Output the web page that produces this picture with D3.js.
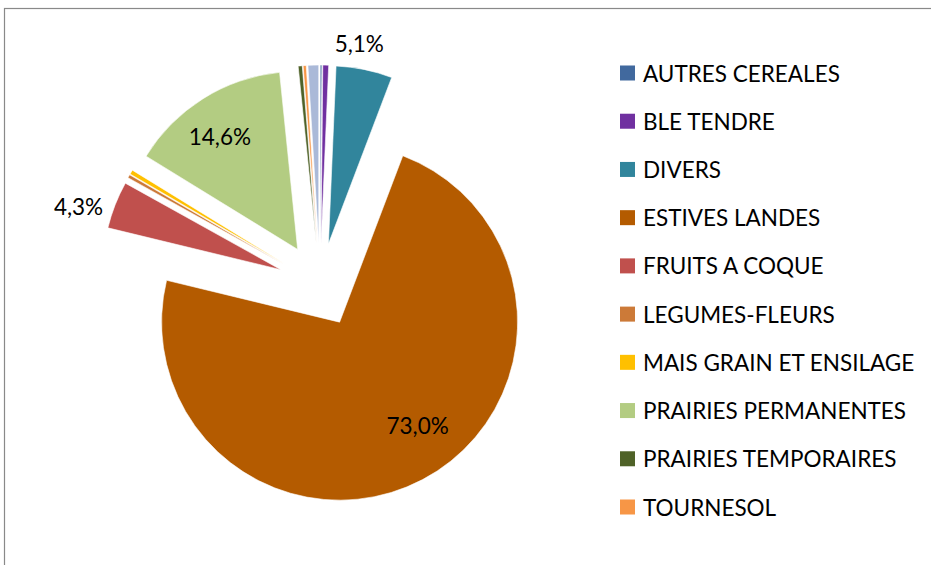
<!DOCTYPE html>
<html>
<head>
<meta charset="utf-8">
<script src="https://cdn.jsdelivr.net/npm/d3@7"></script>
<style>
  body { margin: 0; background: #fff; }
  svg { display: block; font-family: Lato, "Liberation Sans", sans-serif; }
</style>
</head>
<body>
<div class="graphic"></div>
<script>
// categories, in the order the pie draws them (clockwise from 12 o'clock)
var categories = ["AUTRES CEREALES", "BLE TENDRE", "DIVERS", "ESTIVES LANDES", "FRUITS A COQUE",
  "LEGUMES-FLEURS", "MAIS GRAIN ET ENSILAGE", "PRAIRIES PERMANENTES", "PRAIRIES TEMPORAIRES",
  "TOURNESOL", "AUTRES CULTURES"];
// share of surface, in %
var shares = [0.15, 0.53, 5.1, 73.0, 4.3, 0.3, 0.4, 14.6, 0.37, 0.28, 0.97];
var colors = ["#41699e", "#7030a0", "#31859c", "#b45b00", "#c0504d", "#cc7a38", "#ffc000",
  "#b3cc82", "#4f6228", "#f79646", "#aab9d8"];
// the legend of the original is cut after ten entries
var legendItems = categories.slice(0, 10);

var width = 931, height = 565;
var cx = 320, cy = 285, radius = 178, explode = 42;
var fontSize = 22.5;

// where Excel put the percentage labels (polar, around the pie centre)
var labelLayout = {
  "DIVERS": {r: 245, dAngle: -2.4},
  "ESTIVES LANDES": {r: 171, dAngle: -7},
  "FRUITS A COQUE": {r: 254, dAngle: -3.3},
  "PRAIRIES PERMANENTES": {r: 179, dAngle: -1.9}
};

var data = categories.map(function(c, i) { return {name: c, value: shares[i]}; });
var total = d3.sum(shares);
var color = d3.scaleOrdinal().domain(categories).range(colors);
var fmt = function(v) { return d3.format(".1f")(v).replace(".", ",") + "%"; };

var svg = d3.select(".graphic").append("svg")
  .attr("width", width)
  .attr("height", height);

// chart area border (runs past the right and bottom edges)
svg.append("rect")
  .attr("x", 4.5).attr("y", 8.5)
  .attr("width", width + 20).attr("height", height + 20)
  .attr("fill", "#fff")
  .attr("stroke", "#898989")
  .attr("stroke-width", 1.2);

var pie = d3.pie().sort(null).value(function(d) { return d.value; });
var arc = d3.arc().innerRadius(0).outerRadius(radius);
var arcs = pie(data);

var g = svg.append("g").attr("transform", "translate(" + cx + "," + cy + ")");

g.selectAll("path.slice")
  .data(arcs)
  .enter().append("path")
  .attr("class", "slice")
  .attr("transform", function(d) {
    var mid = (d.startAngle + d.endAngle) / 2;
    return "translate(" + (explode * Math.sin(mid)) + "," + (-explode * Math.cos(mid)) + ")";
  })
  .attr("d", arc)
  .attr("fill", function(d) { return color(d.data.name); })
  .attr("stroke", "#fff")
  .attr("stroke-width", 0.6);

// percentage labels
g.selectAll("text.pct")
  .data(arcs.filter(function(d) { return labelLayout[d.data.name]; }))
  .enter().append("text")
  .attr("class", "pct")
  .attr("x", function(d) {
    var l = labelLayout[d.data.name];
    var a = (d.startAngle + d.endAngle) / 2 + l.dAngle * Math.PI / 180;
    return l.r * Math.sin(a);
  })
  .attr("y", function(d) {
    var l = labelLayout[d.data.name];
    var a = (d.startAngle + d.endAngle) / 2 + l.dAngle * Math.PI / 180;
    return -l.r * Math.cos(a);
  })
  .attr("text-anchor", "middle")
  .attr("dominant-baseline", "central")
  .attr("font-size", fontSize)
  .attr("fill", "#000")
  .text(function(d) { return fmt(d.data.value / total * 100); });

// legend
var legendY = d3.scalePoint().domain(legendItems).range([73, 507]);
var legend = svg.append("g").selectAll("g")
  .data(legendItems)
  .enter().append("g")
  .attr("transform", function(d) { return "translate(620," + legendY(d) + ")"; });

legend.append("rect")
  .attr("x", 0).attr("y", -7.5)
  .attr("width", 15).attr("height", 15)
  .attr("fill", function(d) { return color(d); });

legend.append("text")
  .attr("x", 23).attr("y", 0)
  .attr("dominant-baseline", "central")
  .attr("font-size", fontSize)
  .attr("fill", "#000")
  .text(function(d) { return d; });
</script>
</body>
</html>
